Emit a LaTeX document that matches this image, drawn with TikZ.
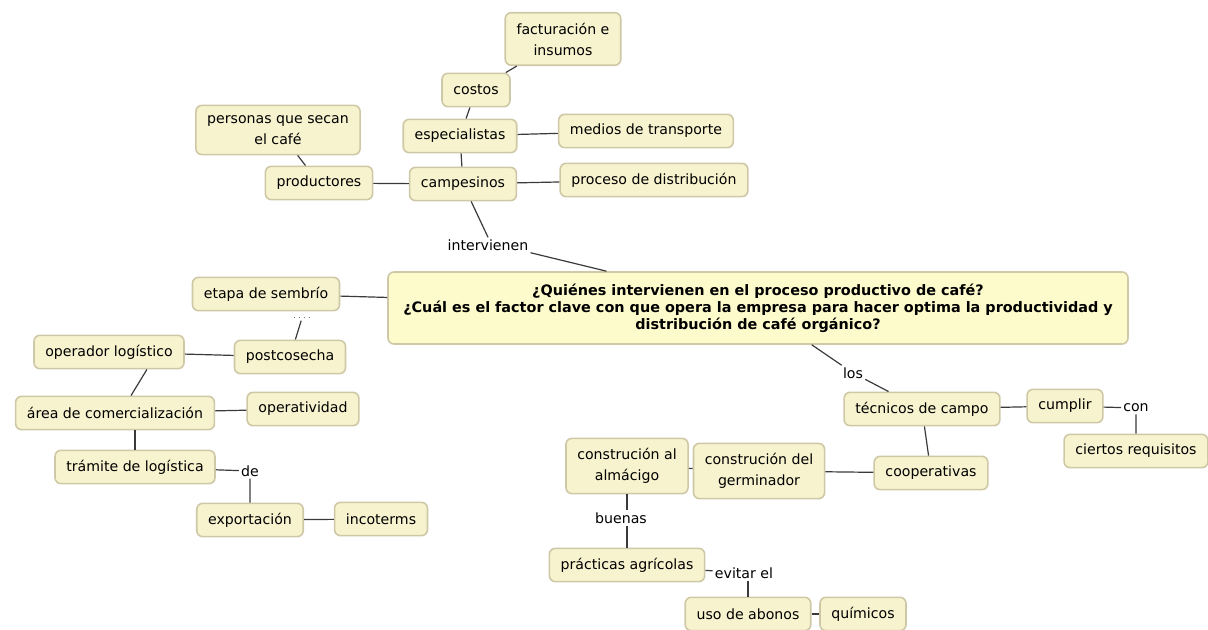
\documentclass[tikz,border=0pt]{standalone}
\usepackage{fontspec}
\setmainfont{DejaVu Sans}
\usepackage{tikz}
\usetikzlibrary{calc}
\definecolor{boxfill}{HTML}{F7F3CE}
\definecolor{boxline}{HTML}{CFC8A6}
\definecolor{mainfill}{HTML}{FDFBCB}
\definecolor{linkline}{HTML}{3A3A3A}
\tikzset{
  concept/.style={rectangle, draw=boxline, fill=boxfill, line width=1.2pt, rounded corners=4.5pt, minimum height=25pt, inner xsep=8.5pt, inner ysep=4pt, align=center, font=\fontsize{10.6}{15.8}\selectfont},
  twoline/.style={concept, inner ysep=7.5pt},
  question/.style={concept, fill=mainfill, minimum width=555pt, minimum height=54pt, font=\fontsize{10.8}{12.8}\selectfont\bfseries},
  phrase/.style={inner sep=1.5pt, font=\fontsize{10.6}{12.5}\selectfont},
  link/.style={draw=linkline, line width=0.9pt},
}

\begin{document}
\begin{tikzpicture}[x=0.75pt, y=-0.75pt]
  \useasboundingbox (0,0) rectangle (1208,630);

  % central question
  \node[question] (pregunta) at (758,308) {¿Quiénes intervienen en el proceso productivo de café?\\¿Cuál es el factor clave con que opera la empresa para hacer optima la productividad y\\distribución de café orgánico?};

  % upper branch
  \node[twoline] (factura) at (563,39) {facturación e\\insumos};
  \node[concept] (costos) at (476,90) {costos};
  \node[twoline] (personas) at (278,130) {personas que secan\\el café};
  \node[concept] (especialistas) at (460,136) {especialistas};
  \node[concept] (transporte) at (646,131) {medios de transporte};
  \node[concept] (productores) at (319,183) {productores};
  \node[concept] (campesinos) at (463,184) {campesinos};
  \node[concept] (distribucion) at (654,180) {proceso de distribución};
  \node[phrase] (intervienen) at (488,245) {intervienen};

  % left branch
  \node[concept] (sembrio) at (266,294) {etapa de sembrío};
  \node[phrase, font=\tiny] (puntos) at (302,318) {. . . .};
  \node[concept] (postcosecha) at (290,357) {postcosecha};
  \node[concept] (operador) at (109,352) {operador logístico};
  \node[concept] (area) at (115,413) {área de comercialización};
  \node[concept] (operatividad) at (303,409) {operatividad};
  \node[concept] (tramite) at (135,467) {trámite de logística};
  \node[phrase] (de) at (250,471) {de};
  \node[concept] (exportacion) at (250,520) {exportación};
  \node[concept] (incoterms) at (381,519) {incoterms};

  % right branch
  \node[phrase] (los) at (853,373) {los};
  \node[concept] (tecnicos) at (922,409) {técnicos de campo};
  \node[concept] (cumplir) at (1065,406) {cumplir};
  \node[phrase] (con) at (1136,408) {con};
  \node[concept] (requisitos) at (1136,451) {ciertos requisitos};
  \node[concept] (cooperativas) at (931,473) {cooperativas};
  \node[twoline] (germinador) at (759,471) {construción del\\germinador};
  \node[twoline] (almacigo) at (627,466) {construción al\\almácigo};
  \node[phrase] (buenas) at (621,518) {buenas};
  \node[concept] (practicas) at (627,565) {prácticas agrícolas};
  \node[phrase] (evitar) at (744,573) {evitar el};
  \node[concept] (abonos) at (748,614) {uso de abonos};
  \node[concept] (quimicos) at (863,614) {químicos};

  % connectors
  \draw[link] (costos) -- (factura);
  \draw[link] (costos) -- (especialistas);
  \draw[link] (especialistas) -- (transporte);
  \draw[link] (especialistas) -- (campesinos);
  \draw[link] (personas) -- (productores);
  \draw[link] (productores) -- (campesinos);
  \draw[link] (campesinos) -- (distribucion);
  \draw[link] (campesinos) -- (intervienen.north);
  \draw[link] (intervienen.south east) -- (pregunta);

  \draw[link] (pregunta) -- (sembrio);
  \draw[link] (postcosecha) -- (puntos);
  \draw[link] (postcosecha) -- (operador);
  \draw[link] ($(operador.south west)!0.75!(operador.south east)$) -- ($(area.north west)!0.58!(area.north east)$);
  \draw[link] (area) -- (operatividad);
  \draw[link] (tramite.north |- area.south) -- (tramite.north);
  \draw[link] (tramite) -- (de) -- (exportacion);
  \draw[link] (exportacion) -- (incoterms);

  \draw[link] (pregunta) -- (los) -- (tecnicos);
  \draw[link] (tecnicos) -- (cumplir);
  \draw[link] (cumplir) -- (con) -- (requisitos);
  \draw[link] (tecnicos) -- (cooperativas);
  \draw[link] (cooperativas) -- (germinador);
  \draw[link] (germinador) -- (almacigo);
  \draw[link] (almacigo) -- (almacigo |- buenas.north);
  \draw[link] (practicas |- buenas.south) -- (practicas);
  \draw[link] (practicas) -- (evitar);
  \draw[link] (evitar.south -| abonos.north) -- (abonos.north);
  \draw[link] (abonos) -- (quimicos);
\end{tikzpicture}
\end{document}
